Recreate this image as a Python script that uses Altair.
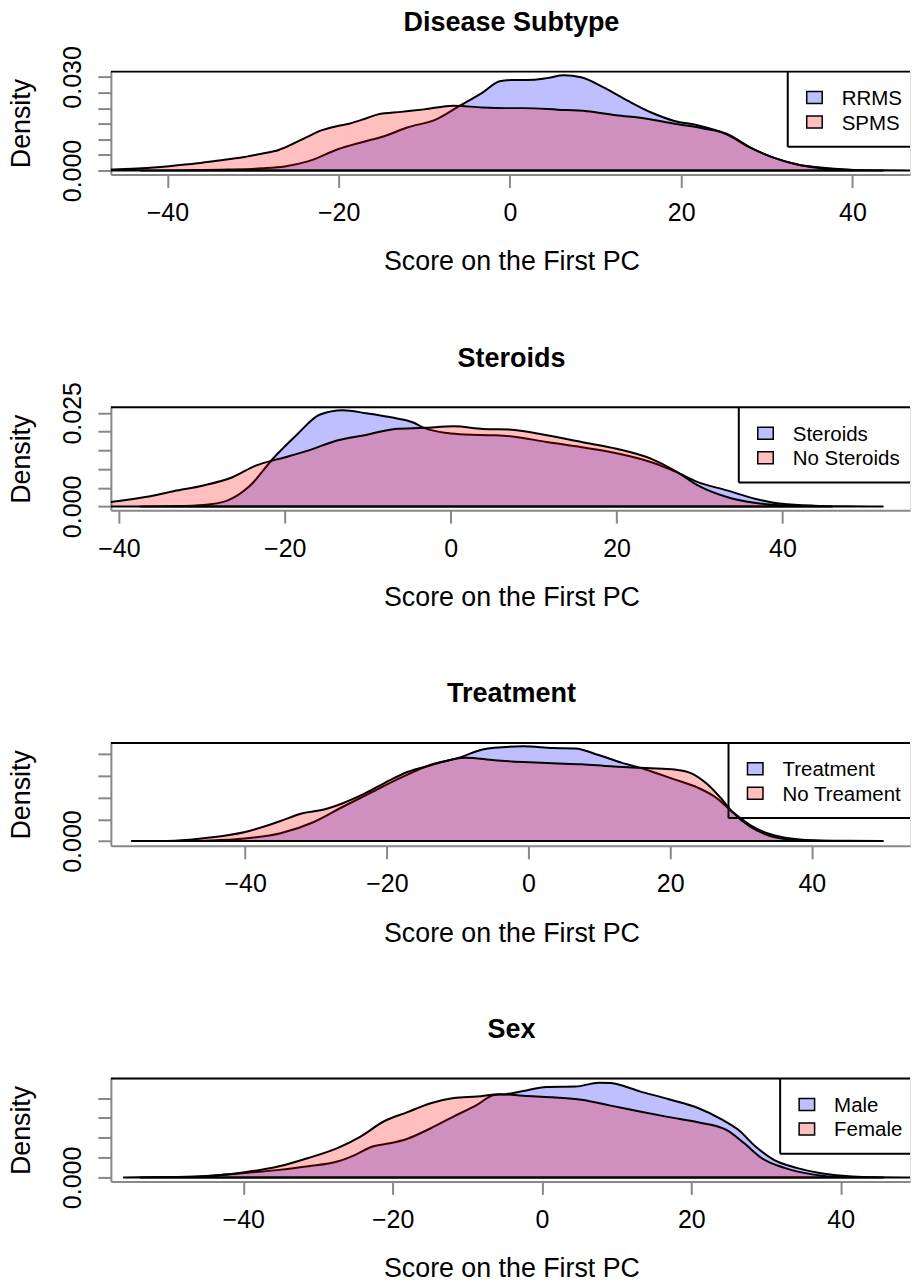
import altair as alt
import pandas as pd

FONT = "Liberation Sans"

# ---------------- data ----------------
titles = ["Disease Subtype", "Steroids", "Treatment", "Sex"]
group_labels = [["RRMS", "SPMS"], ["Steroids", "No Steroids"],
                ["Treatment", "No Treament"], ["Male", "Female"]]

# Panel 1: Disease Subtype
p1_a_x = [-43.1, -38, -33, -29, -26.3, -23.5, -20.1, -17.4, -14.7, -12, -8.6, -5.9, -3.2, -1.2, 0.2, 2.9,
          4.5, 6.3, 8.3, 11.1, 13.8, 16.5, 19.2, 21.9, 25.3, 28, 30.7, 33.4, 36.8, 40.2, 43.55]
p1_a_y = [0, 0.0001, 0.0003, 0.0007, 0.0013, 0.003, 0.0068, 0.009, 0.011, 0.0138, 0.0164, 0.0207, 0.025,
          0.0286, 0.029, 0.0291, 0.0297, 0.0305, 0.0299, 0.0264, 0.0223, 0.0186, 0.0159, 0.0145, 0.0116,
          0.0074, 0.0042, 0.002, 0.0008, 0.0002, 0]
p1_b_x = [-50, -46.6, -43, -39.8, -36.5, -33.7, -31, -29, -27, -25.6, -23.8, -22.2, -20.1, -18.8, -17,
          -15.4, -12.7, -10, -6.6, -3.2, -0.5, 1.6, 5.6, 9, 12.4, 15.8, 19.2, 22.6, 25.3, 28, 30.7, 34.1,
          37, 40, 44, 48]
p1_b_y = [0, 0.0003, 0.0007, 0.0014, 0.0023, 0.0033, 0.0043, 0.0054, 0.0066, 0.0082, 0.0106, 0.0127,
          0.0143, 0.015, 0.0165, 0.018, 0.0188, 0.0196, 0.0208, 0.0202, 0.02, 0.02, 0.0195, 0.0190, 0.0177,
          0.0167, 0.0150, 0.0135, 0.0118, 0.0075, 0.0042, 0.0016, 0.0006, 0.0002, 0.00005, 0]

# Panel 2: Steroids
p2_a_x = [-37.4, -33, -29.8, -27, -24.2, -21.4, -18.6, -15.8, -13, -10.2, -6.7, -4.6, -3.2, -0.4, 1.75,
          5.3, 7.4, 11.6, 15.8, 20, 24.2, 27, 29.8, 33.3, 36.8, 39.9, 43.8, 48, 52.1]
p2_a_y = [0, 0.0001, 0.0004, 0.0015, 0.0055, 0.0128, 0.019, 0.0245, 0.0257, 0.0249, 0.0236, 0.0225,
          0.021, 0.0196, 0.0192, 0.019, 0.0187, 0.0172, 0.0158, 0.0142, 0.0118, 0.0094, 0.0065, 0.0043,
          0.002, 0.0007, 0.0002, 0.00005, 0]
p2_b_x = [-48, -45, -41, -36.8, -33.3, -29.8, -26.3, -23.5, -20.7, -17.2, -13.7, -10.2, -6.7, -3.2, 0.4,
          3.9, 7.4, 11.6, 15.8, 20, 24.2, 27, 29.8, 33.3, 36.8, 39.9, 43, 46]
p2_b_y = [0, 0.0004, 0.0012, 0.0025, 0.0041, 0.0056, 0.0078, 0.0109, 0.0127, 0.0149, 0.0176, 0.0191,
          0.0207, 0.021, 0.0214, 0.0207, 0.0205, 0.019, 0.0172, 0.0154, 0.0127, 0.0096, 0.0056, 0.0025,
          0.0009, 0.0003, 0.0001, 0]

# Panel 3: Treatment
p3_a_x = [-54.8, -50, -45, -40, -35, -30.3, -26.2, -22.1, -18, -13.9, -9.8, -6.5, -4.8, -0.7, 3.4, 6.6,
          9.9, 13.2, 15.7, 18.1, 20.6, 23.9, 26.3, 28.8, 31.3, 33.7, 36.2, 40.3, 45, 50]
p3_a_y = [0, 0.00003, 0.00015, 0.0006, 0.0018, 0.0044, 0.0079, 0.0113, 0.0146, 0.0175, 0.0192, 0.0211,
          0.0215, 0.0218, 0.0214, 0.0213, 0.0198, 0.018, 0.0169, 0.0156, 0.0142, 0.0123, 0.0102, 0.0067,
          0.0037, 0.0018, 0.0008, 0.0002, 0.00005, 0]
p3_b_x = [-56, -50, -45, -40, -35.2, -31.9, -29, -26.2, -23.7, -20.4, -17.1, -13.9, -8.9, -4.8, -0.7,
          3.4, 7.5, 11.6, 15.7, 18.1, 20.6, 23, 25.1, 27.2, 28.8, 31.3, 33.7, 36.2, 40, 45, 50]
p3_b_y = [0, 0.0001, 0.0008, 0.0021, 0.0045, 0.0064, 0.0072, 0.0087, 0.0105, 0.0133, 0.0159, 0.0174,
          0.0192, 0.0186, 0.0182, 0.0179, 0.0177, 0.0172, 0.0169, 0.0167, 0.0165, 0.0156, 0.0133, 0.0098,
          0.0067, 0.0033, 0.0014, 0.0005, 0.0001, 0.00002, 0]

# Panel 4: Sex
p4_a_x = [-53.75, -49, -45.3, -39.8, -35.2, -31.3, -27.4, -25, -22.7, -20.4, -18.1, -14.9, -11.8, -8.7,
          -6.4, -4.8, -2.5, 0.6, 4.5, 7.6, 9.2, 13.1, 17, 20.9, 24, 26.3, 28.6, 31, 34.1, 37.2, 40.3, 43,
          45.7]
p4_a_y = [0, 0.0001, 0.0003, 0.0011, 0.0019, 0.0028, 0.004, 0.0057, 0.0078, 0.0086, 0.0097, 0.0124,
          0.0154, 0.0183, 0.0208, 0.021, 0.0218, 0.0228, 0.0229, 0.0239, 0.0238, 0.0217, 0.0197, 0.0175,
          0.0147, 0.012, 0.0078, 0.0045, 0.0024, 0.0011, 0.0004, 0.0001, 0]
p4_b_x = [-56, -50, -45.3, -39.8, -35.2, -31.3, -27.4, -24.3, -21.2, -18.1, -14.9, -11.8, -8.7, -5.6,
          -2.5, 1.4, 5.3, 9.2, 13.1, 17, 20.9, 24.7, 27.1, 29.4, 32.5, 36.4, 40.3, 45, 52]
p4_b_y = [0, 0.0001, 0.0003, 0.0013, 0.0028, 0.0049, 0.0074, 0.0103, 0.0141, 0.0164, 0.0187, 0.02,
          0.0204, 0.021, 0.0206, 0.0202, 0.0196, 0.0181, 0.0166, 0.0152, 0.0139, 0.012, 0.0086, 0.0049,
          0.0024, 0.0007, 0.0001, 0.00002, 0]

series = [(p1_a_x, p1_a_y, p1_b_x, p1_b_y), (p2_a_x, p2_a_y, p2_b_x, p2_b_y),
          (p3_a_x, p3_a_y, p3_b_x, p3_b_y), (p4_a_x, p4_a_y, p4_b_x, p4_b_y)]

x_ticks = [-40, -20, 0, 20, 40]
x_domains = [[-46.6, 46.72], [-40.96, 55.38], [-58.96, 53.86], [-57.73, 49.29]]
y_domains = [[-0.00128, 0.0317], [-0.00099, 0.02649], [-0.00108, 0.0226], [-0.00101, 0.02494]]
y_ticks = [[0, 0.005, 0.01, 0.015, 0.02, 0.025, 0.03],
           [0, 0.005, 0.01, 0.015, 0.02, 0.025],
           [0, 0.005, 0.01, 0.015, 0.02],
           [0, 0.005, 0.01, 0.015, 0.02]]
y_labelled_top = [0.03, 0.025, None, None]

# ---------------- layout / style ----------------
W, H = 800, 103
legend_left = [677.6, 628.6, 618.3, 670.0]
BLUE = "#0000ff"
RED = "#ff0000"
AXIS_TITLE_SIZE = 26.8
TICK_LABEL_SIZE = 25
MAIN_TITLE_SIZE = 27
LEGEND_SIZE = 20.5


def panel(i):
    ax, ay, bx, by = series[i]
    df_a = pd.DataFrame({"x": ax, "y": ay})
    df_b = pd.DataFrame({"x": bx, "y": by})

    top = y_labelled_top[i]
    if top is None:
        lab = "abs(datum.value) < 1e-9 ? format(datum.value, '.3f') : ''"
    else:
        lab = ("(abs(datum.value) < 1e-9 || abs(datum.value - %s) < 1e-9) ? "
               "format(datum.value, '.3f') : ''" % top)

    xenc = alt.X("x:Q",
                 scale=alt.Scale(domain=x_domains[i], nice=False, zero=False),
                 axis=alt.Axis(values=x_ticks, tickCount=50, tickSize=13, tickWidth=2,
                               domainWidth=2, labelFontSize=TICK_LABEL_SIZE, labelFont=FONT,
                               labelPadding=13, labelBaseline="top", labelFlush=False,
                               labelOverlap=False, grid=False, title="Score on the First PC",
                               titleFontSize=AXIS_TITLE_SIZE, titleFont=FONT,
                               titleFontWeight="normal", titleX=W / 2 + 1, titleY=95.5,
                               titleBaseline="alphabetic", titleAlign="center"))
    yenc = alt.Y("y:Q",
                 scale=alt.Scale(domain=y_domains[i], nice=False, zero=False),
                 axis=alt.Axis(values=y_ticks[i], tickCount=50, tickSize=13, tickWidth=2,
                               domainWidth=2, labelFontSize=TICK_LABEL_SIZE, labelFont=FONT,
                               labelAngle=270, labelAlign="center", labelBaseline="alphabetic",
                               labelPadding=17, labelExpr=lab, labelOverlap=False,
                               labelFlush=False, grid=False, title="Density",
                               titleFontSize=AXIS_TITLE_SIZE, titleFont=FONT,
                               titleFontWeight="normal", titleAngle=270, titleAlign="center",
                               titleBaseline="alphabetic", titleX=-81, titleY=H / 2))

    area_a = alt.Chart(df_a).mark_area(
        fill=BLUE, fillOpacity=0.25, stroke="black", strokeWidth=2, strokeJoin="round",
        interpolate="monotone", clip=True
    ).encode(x=xenc, y=yenc, y2=alt.datum(0))
    area_b = alt.Chart(df_b).mark_area(
        fill=RED, fillOpacity=0.25, stroke="black", strokeWidth=2, strokeJoin="round",
        interpolate="monotone", clip=True
    ).encode(x="x:Q", y="y:Q", y2=alt.datum(0))

    one = alt.Data(values=[{"t": titles[i]}])
    top_border = alt.Chart(one).mark_rule(color="black", strokeWidth=2).encode(
        x=alt.value(0), x2=alt.value(W), y=alt.value(0))
    title = alt.Chart(one).mark_text(
        font=FONT, fontSize=MAIN_TITLE_SIZE, fontWeight="bold", align="center",
        baseline="alphabetic", color="black"
    ).encode(x=alt.value(W / 2 + 1), y=alt.value(-40.7), text="t:N")

    L = legend_left[i]
    leg_left = alt.Chart(one).mark_rule(color="black", strokeWidth=2).encode(
        x=alt.value(L), y=alt.value(0), y2=alt.value(75.3))
    leg_bottom = alt.Chart(one).mark_rule(color="black", strokeWidth=2).encode(
        x=alt.value(L), x2=alt.value(W), y=alt.value(75.3))

    layers = [area_a, area_b, top_border, title, leg_left, leg_bottom]
    row_centers = [26, 50.5]
    row_base = [33.5, 58]
    fills = [BLUE, RED]
    for k in range(2):
        d = alt.Data(values=[{"t": group_labels[i][k]}])
        layers.append(alt.Chart(d).mark_rect(
            fill=fills[k], fillOpacity=0.25, stroke="black", strokeWidth=1.5
        ).encode(x=alt.value(L + 19), x2=alt.value(L + 34.5),
                 y=alt.value(row_centers[k] - 6), y2=alt.value(row_centers[k] + 6)))
        layers.append(alt.Chart(d).mark_text(
            font=FONT, fontSize=LEGEND_SIZE, align="left", baseline="alphabetic", color="black"
        ).encode(x=alt.value(L + 54), y=alt.value(row_base[k]), text="t:N"))

    return alt.layer(*layers).properties(width=W, height=H)


chart = alt.vconcat(*[panel(i) for i in range(4)], spacing=233, bounds="flush").properties(
    padding={"left": 8, "top": 7, "right": 0, "bottom": 0}
).configure_view(stroke=None).configure_axis(
    labelColor="black", titleColor="black", domainColor="black", tickColor="black"
).configure(background="white")

chart.save("out.html", embed_options={"renderer": "svg", "actions": False})
